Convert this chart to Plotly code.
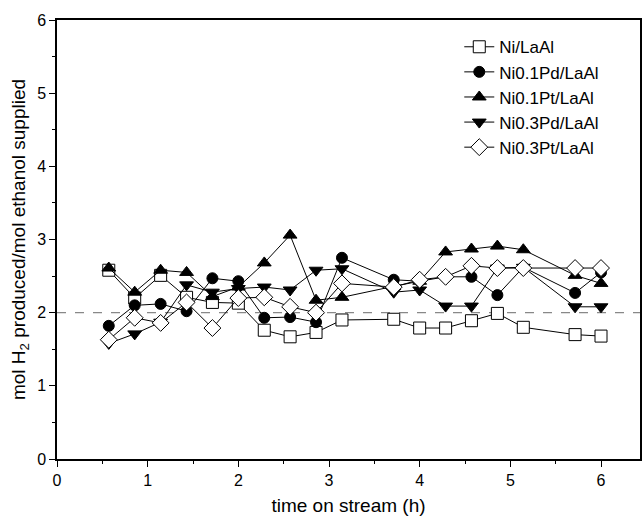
import plotly.graph_objects as go

x_all = [0.571, 0.857, 1.143, 1.429, 1.714, 2.0, 2.286, 2.571, 2.857, 3.143,
         3.714, 4.0, 4.286, 4.571, 4.857, 5.143, 5.714, 6.0]

ni_laal = [2.58, 2.20, 2.51, 2.21, 2.14, 2.13, 1.76, 1.67, 1.73, 1.90,
           1.91, 1.79, 1.79, 1.89, 1.99, 1.80, 1.70, 1.68]
ni01pd = [1.82, 2.10, 2.12, 2.02, 2.47, 2.43, 1.93, 1.94, 1.87, 2.75,
          2.45, 2.43, 2.49, 2.49, 2.24, 2.62, 2.27, 2.55]
ni01pt = [2.61, 2.28, 2.58, 2.55, 2.22, 2.35, 2.68, 3.06, 2.17, 2.21,
          2.36, 2.43, 2.83, 2.87, 2.91, 2.86, 2.51, 2.40]
ni03pd = [1.58, 1.71, 1.87, 2.38, 2.28, 2.33, 2.35, 2.31, 2.58, 2.60,
          2.28, 2.31, 2.09, 2.09, 2.61, 2.62, 2.08, 2.08]
ni03pt = [1.63, 1.93, 1.86, 2.14, 1.79, 2.20, 2.21, 2.08, 2.00, 2.40,
          2.35, 2.45, 2.49, 2.64, 2.61, 2.61, 2.61, 2.61]

series = [
    ("Ni/LaAl", ni_laal, "square", 12, "white"),
    ("Ni0.1Pd/LaAl", ni01pd, "circle", 11, "black"),
    ("Ni0.1Pt/LaAl", ni01pt, "triangle-up", 12, "black"),
    ("Ni0.3Pd/LaAl", ni03pd, "triangle-down", 12, "black"),
    ("Ni0.3Pt/LaAl", ni03pt, "diamond", 13, "white"),
]

font = "Liberation Sans, Arial, sans-serif"
fig = go.Figure()

fig.add_shape(type="line", xref="paper", yref="y", x0=0, x1=1, y0=2, y1=2,
              line=dict(color="#888888", width=1.2, dash="dash"), layer="below")

for name, ys, sym, sz, fill in series:
    fig.add_trace(go.Scatter(
        x=x_all, y=ys, name=name, mode="lines+markers",
        line=dict(color="black", width=1),
        marker=dict(symbol=sym, size=sz, color=fill,
                    line=dict(color="black", width=1)),
    ))

axis_common = dict(
    showline=True, linecolor="black", linewidth=1.5, mirror=True,
    ticks="outside", ticklen=6, tickwidth=1.2, tickcolor="black",
    showgrid=False, zeroline=False, automargin=False,
    tickfont=dict(family=font, size=16, color="black"),
    minor=dict(ticks="outside", ticklen=3, tickwidth=1, tickcolor="black", dtick=0.5),
)

fig.update_xaxes(range=[0, 6.43], dtick=1, tick0=0,
                 title=dict(text="time on stream (h)", font=dict(family=font, size=19, color="black"), standoff=15),
                 **axis_common)
fig.update_yaxes(range=[0, 6], dtick=1, tick0=0,
                 title=dict(text="mol H<sub>2</sub> produced/mol ethanol supplied",
                            font=dict(family=font, size=19, color="black"), standoff=6),
                 **axis_common)

fig.update_layout(
    width=644, height=516,
    margin=dict(l=57, r=4, t=20, b=57),
    paper_bgcolor="white", plot_bgcolor="white",
    showlegend=True,
    legend=dict(x=0.69, y=0.979, xanchor="left", yanchor="top",
                bgcolor="rgba(0,0,0,0)", borderwidth=0,
                font=dict(family=font, size=17, color="black"),
                tracegroupgap=0),
)

fig.write_html("out.html")
